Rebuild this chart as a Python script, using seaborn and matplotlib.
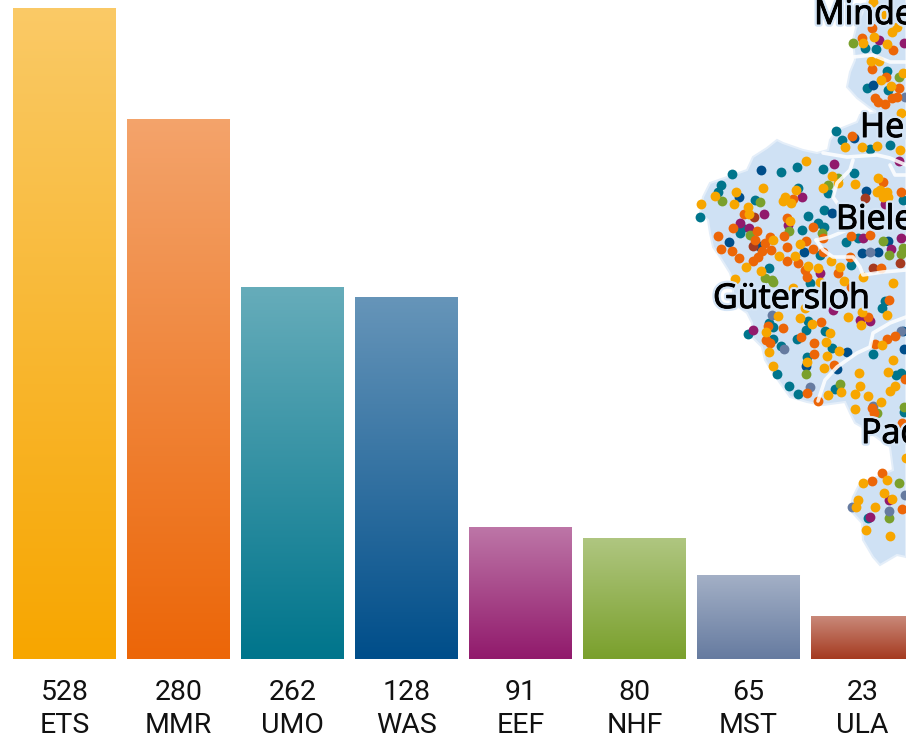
import numpy as np
import pandas as pd
import matplotlib
matplotlib.use("Agg")
import matplotlib.pyplot as plt
import matplotlib.patheffects as pe
from matplotlib.colors import to_rgb
import seaborn as sns

codes = ["ETS", "MMR", "UMO", "WAS", "EEF", "NHF", "MST", "ULA"]
counts = [528, 280, 262, 128, 91, 80, 65, 23]
bar_heights = [651, 540, 372, 362, 132, 121, 84, 43]
colors = ["#F7A600", "#EC6608", "#00758C", "#004E8A", "#911A6C", "#7AA02C", "#667BA0", "#A53A20"]

region_x = [870,856,853,855,850,847,857,870,877,860,857,837,830,828,817,803,783,777,767,753,747,733,710,703,700,708,710,713,720,730,733,733,747,752,752,762,765,773,780,790,807,823,845,850,855,862,890,893,877,860,853,850,862,863,873,880,897,906,906]
region_y = [-5,28,40,60,72,87,98,108,112,115,122,130,140,150,153,150,143,140,148,157,170,175,183,197,213,220,233,247,257,273,283,303,313,323,337,347,360,373,383,397,402,405,402,413,423,427,447,470,477,483,497,510,523,540,557,565,555,557,-5]

border_lines = [
    ([853,873,890,906], [57,55,62,62]),
    ([823,847,877,890,906], [153,157,155,158,165]),
    ([853,850,837,833,840], [160,170,183,197,207]),
    ([816,830,847], [240,237,230]),
    ([816,823,833,853,860,863,883,906], [240,250,257,257,267,275,272,270]),
    ([818,825,837,857,870,873,890,906], [401,380,367,353,347,333,323,317]),
    ([890,895,906], [165,175,175]),
]

teal_pts = [(721,185),(718,192),(781,172),(797,167),(823,169),(854,173),(828,193),(798,188),(755,200),(824,210),(808,216),(802,230),(818,223),(824,227),(740,233),(742,228),(769,268),(820,255),(846,242),(842,140),(890,145),(870,149),(865,48),(876,49),(887,71),(867,88),(888,90),(851,265),(810,283),(858,238),(903,200),(773,339),(781,346),(769,323),(773,327),(806,330),(797,339),(808,321),(825,331),(832,348),(807,357),(789,386),(798,394),(835,389),(873,354),(882,308),(885,301),(896,375),(901,373),(904,412),(868,518),(732,174),(700,217),(836,131),(748,334),(777,374)]
blue_pts = [(761,170),(739,197),(832,213),(729,242),(759,246),(804,252),(862,253),(878,252),(873,85),(854,138),(866,191),(888,241),(847,352),(806,366),(837,369),(904,349),(903,331)]
purple_pts = [(834,164),(802,197),(764,214),(740,223),(749,228),(788,225),(879,40),(904,43),(899,161),(863,238),(901,238),(891,249),(885,204),(820,273),(753,330),(833,310),(860,320),(870,321),(870,517),(889,500)]
green_pts = [(853,43),(899,77),(722,201),(760,202),(828,185),(838,178),(750,235),(789,231),(822,233),(883,241),(903,248),(889,255),(901,254),(765,278),(772,280),(806,374),(840,384),(889,518),(899,483),(904,407),(877,413),(773,282),(740,299)]
slate_pts = [(870,252),(905,97),(772,315),(784,349),(810,387),(873,406),(901,331),(852,507),(889,511),(905,495)]
brown_pts = [(754,217),(753,246),(865,198),(873,268),(900,263)]
orange_pts = [(852,136),(862,38),(893,50),(872,69),(886,77),(899,88),(875,98),(885,104),(892,98),(897,97),(878,102),(872,28),(883,182),(901,192),(744,214),(733,228),(718,236),(757,231),(755,240),(721,249),(732,251),(739,258),(770,237),(765,243),(762,251),(758,257),(753,261),(771,250),(787,247),(784,236),(787,261),(798,263),(806,241),(813,227),(813,249),(805,270),(807,277),(787,218),(793,199),(823,238),(823,252),(838,273),(851,236),(870,235),(850,257),(881,268),(851,287),(768,326),(783,328),(766,340),(770,343),(801,337),(814,343),(814,354),(821,322),(834,365),(807,393),(868,317),(889,300),(875,344),(887,339),(895,336),(905,379),(872,408),(874,413),(902,509),(818,401),(882,473),(872,481),(902,423)]
yellow_pts = [(806,161),(763,188),(736,192),(715,196),(734,204),(748,207),(749,214),(785,197),(783,201),(791,203),(796,190),(823,188),(832,176),(838,183),(855,184),(845,147),(862,147),(877,146),(900,150),(701,204),(790,221),(773,240),(800,244),(779,256),(795,256),(746,267),(761,271),(808,266),(818,268),(831,261),(840,267),(844,281),(820,282),(735,279),(863,277),(893,283),(873,2),(885,15),(892,32),(897,27),(874,37),(863,43),(887,44),(871,61),(879,61),(903,73),(881,80),(891,86),(901,113),(878,178),(880,190),(887,192),(883,197),(877,192),(888,197),(778,316),(800,318),(812,324),(766,332),(769,352),(773,366),(807,362),(827,356),(824,368),(826,342),(830,333),(839,351),(848,317),(861,325),(862,312),(887,315),(882,345),(893,360),(888,372),(859,373),(860,386),(855,394),(868,396),(841,392),(828,395),(881,402),(855,409),(890,391),(895,386),(906,458),(887,480),(884,493),(892,499),(858,500),(856,507),(875,507),(866,530),(890,536),(863,483),(793,288),(805,308)]

map_series = [(teal_pts, "#00758C"), (blue_pts, "#004E8A"), (purple_pts, "#911A6C"), (green_pts, "#7AA02C"), (slate_pts, "#667BA0"), (brown_pts, "#A53A20"), (orange_pts, "#EC6608"), (yellow_pts, "#F7A600")]

city_names = ["Minden", "Herford", "Bielefeld", "Gütersloh", "Paderborn"]
city_x = [814, 860, 836, 713, 861]
city_y = [24, 137, 229, 308, 443]

sns.set_theme(style="white")
plt.rcParams["font.family"] = ["Roboto", "DejaVu Sans"]

W, H = 906, 738
BASE = 659
fig = plt.figure(figsize=(W / 100, H / 100), dpi=100)
ax = fig.add_axes([0, (H - BASE) / H, 1, BASE / H])

df = pd.DataFrame({"code": codes, "height": bar_heights})
sns.barplot(data=df, x="code", y="height", hue="code", palette=colors, legend=False, width=0.9, ax=ax)

for patch, col in zip(ax.patches, colors):
    x0, w, h = patch.get_x(), patch.get_width(), patch.get_height()
    base = np.array(to_rgb(col))
    top = base * 0.6 + 0.4
    t = np.linspace(0, 1, 128)[:, None, None]
    grad = top[None, None, :] * (1 - t) + base[None, None, :] * t
    ax.imshow(grad, extent=[x0, x0 + w, 0, h], aspect="auto", zorder=3, interpolation="bilinear")

ax.set_xlim(-64.5 / 114, (W - 64.5) / 114)
ax.set_ylim(0, BASE)
ax.set_yticks([])
ax.set_xticks(range(len(codes)))
ax.set_xticklabels([f"{c}\n{n}" for c, n in zip(counts, codes)], fontsize=20.5, color="#111111", linespacing=1.3)
ax.tick_params(axis="x", length=0, pad=14.5)
ax.set_xlabel("")
ax.set_ylabel("")
sns.despine(ax=ax, left=True, bottom=True)

mp = fig.add_axes([0, 0, 1, 1], facecolor="none")
mp.fill(region_x, region_y, color="#CFE1F4", linewidth=1.5, edgecolor="#E4EEF9", zorder=1)
for pts, col in map_series:
    arr = np.array(pts)
    sns.scatterplot(x=arr[:, 0], y=arr[:, 1], color=col, s=50, linewidth=0, ax=mp, zorder=2, legend=False)
for lx, ly in border_lines:
    mp.plot(lx, ly, color="white", lw=2.6, alpha=0.85, zorder=3, solid_capstyle="round")
for name, x, y in zip(city_names, city_x, city_y):
    mp.text(x, y, name, fontsize=24.5, color="black", family=["Open Sans", "DejaVu Sans"], ha="left", va="baseline", zorder=5,
            path_effects=[pe.withStroke(linewidth=4, foreground="#D5E5F6"), pe.withStroke(linewidth=0.7, foreground="black")])
mp.set_xlim(0, W)
mp.set_ylim(H, 0)
mp.axis("off")

fig.savefig("out.png", dpi=100)
